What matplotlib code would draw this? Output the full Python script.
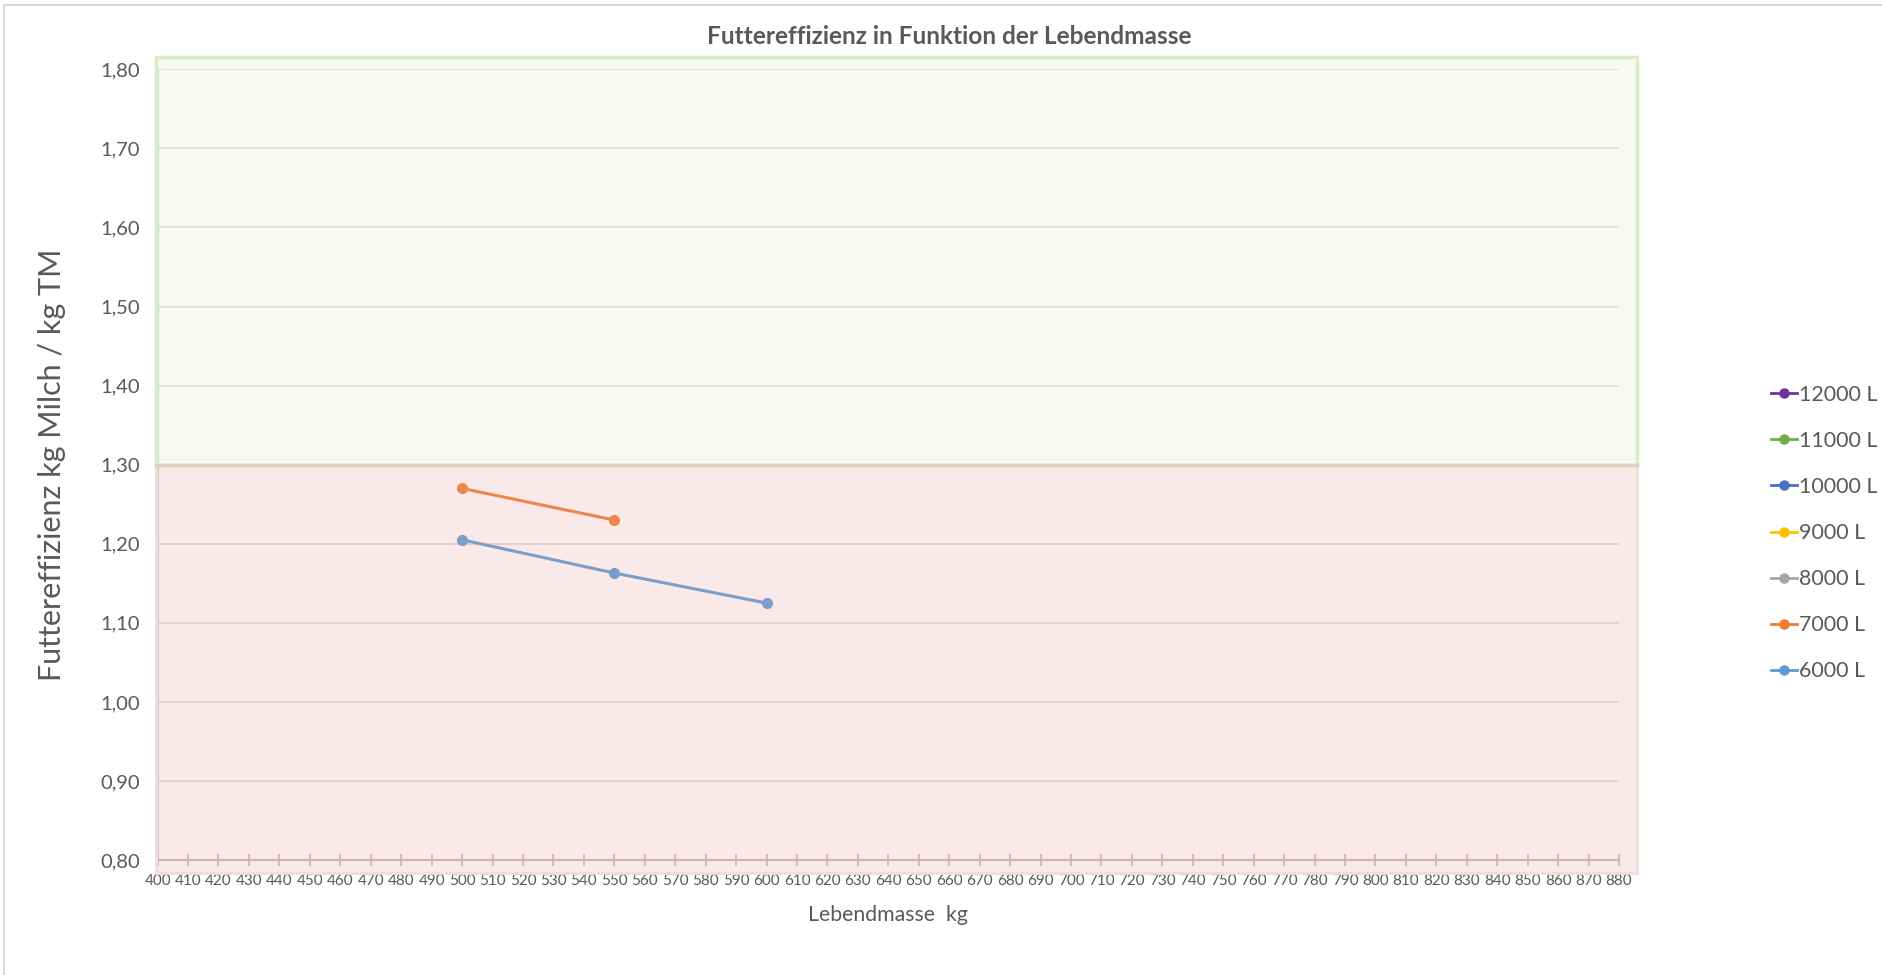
import matplotlib
matplotlib.use("Agg")
import matplotlib.pyplot as plt
from matplotlib.patches import Rectangle

plt.rcParams['font.family'] = ['Lato', 'DejaVu Sans']

# Lebendmasse (kg) und Futtereffizienz je Milchleistung
masse_6000 = [500, 550, 600]
eff_6000 = [1.205, 1.163, 1.125]
masse_7000 = [500, 550]
eff_7000 = [1.270, 1.230]

# Reihen ohne Werte (nur Legende)
series_names = ["12000 L", "11000 L", "10000 L", "9000 L", "8000 L", "7000 L", "6000 L"]
series_colors = ["#7030a0", "#70ad47", "#4472c4", "#ffc000", "#a5a5a5", "#ed7d31", "#5b9bd5"]

x_ticks = list(range(400, 881, 10))
y_ticks = [0.80, 0.90, 1.00, 1.10, 1.20, 1.30, 1.40, 1.50, 1.60, 1.70, 1.80]
grenze = 1.30

text_col = "#595959"

fig = plt.figure(figsize=(18.83, 9.75), dpi=100)
ax = fig.add_axes([0.0837, 0.1179, 0.7761, 0.8110])

data = {
    "12000 L": ([], []),
    "11000 L": ([], []),
    "10000 L": ([], []),
    "9000 L": ([], []),
    "8000 L": ([], []),
    "7000 L": (masse_7000, eff_7000),
    "6000 L": (masse_6000, eff_6000),
}
for name, col in zip(series_names, series_colors):
    xs, ys = data[name]
    ax.plot(xs, ys, color=col, lw=2.2, marker="o", ms=7, label=name, zorder=3)

ax.set_xlim(400, 880)
ax.set_ylim(0.80, 1.80)
ax.set_xticks(x_ticks)
ax.set_xticklabels([str(v) for v in x_ticks], fontsize=11, color=text_col)
ax.set_yticks(y_ticks)
ax.set_yticklabels([f"{v:.2f}".replace(".", ",") for v in y_ticks], fontsize=14.5, color=text_col)
ax.tick_params(axis="x", direction="inout", length=8, color="#c9b5b5", width=1.2, pad=6)
ax.tick_params(axis="y", length=0, pad=12.5)
ax.yaxis.grid(True, color="#d9d9d9", lw=1.2, zorder=1)
for s in ["top", "right"]:
    ax.spines[s].set_visible(False)
ax.spines["bottom"].set_color("#c9b5b5")
ax.spines["bottom"].set_linewidth(1.5)
ax.spines["left"].set_color("#d0d0d0")
ax.spines["left"].set_linewidth(1.5)

# Bewertungsbereiche: gut (gruen) oberhalb, schlecht (rot) unterhalb der Grenze
x0, x1 = 399.4, 886
ax.add_patch(Rectangle((x0, grenze), x1 - x0, 1.8156 - grenze, facecolor="#e6ecd6",
                       alpha=0.28, edgecolor="none", clip_on=False, zorder=4))
ax.add_patch(Rectangle((x0, grenze), x1 - x0, 1.8156 - grenze, facecolor="none",
                       edgecolor="#d8ecc6", lw=2.5, clip_on=False, zorder=4))
ax.add_patch(Rectangle((x0, 0.7835), x1 - x0, grenze - 0.7835, facecolor="#e8a6a3",
                       alpha=0.24, edgecolor="none", clip_on=False, zorder=4))
ax.add_patch(Rectangle((x0, 0.7835), x1 - x0, grenze - 0.7835, facecolor="none",
                       edgecolor="#f2dcdc", lw=2, clip_on=False, zorder=4))
ax.plot([x0, x1], [grenze, grenze], color="#d9d3bf", lw=2.5, clip_on=False, zorder=5)

ax.set_xlabel("Lebendmasse  kg", fontsize=15.3, color=text_col, va="center")
ax.xaxis.set_label_coords(0.5, -0.0696)
ax.set_ylabel("Futtereffizienz kg Milch / kg TM", fontsize=22, color=text_col, va="center")
ax.yaxis.set_label_coords(-0.0722, 0.4996)
fig.text(0.504, 0.963, "Futtereffizienz in Funktion der Lebendmasse", ha="center",
         va="center", fontsize=17.6, fontweight="bold", color=text_col)

leg = ax.legend(loc="center left", bbox_to_anchor=(1.104, 0.4136), frameon=False,
                fontsize=15.4, labelspacing=1.22, handlelength=1.2, handletextpad=0.1,
                borderaxespad=0, borderpad=0, labelcolor=text_col)
for h in leg.legend_handles:
    h.set_markersize(6.5)
    h.set_linewidth(2)

# Rahmen des Diagramms
fig.patches.append(Rectangle((4 / 1883, -0.1), 1.2, 1 - 5 / 975 + 0.1, transform=fig.transFigure,
                             facecolor="none", edgecolor="#d9d9d9", lw=1.5))

fig.savefig("out.png", dpi=100, facecolor="white")
